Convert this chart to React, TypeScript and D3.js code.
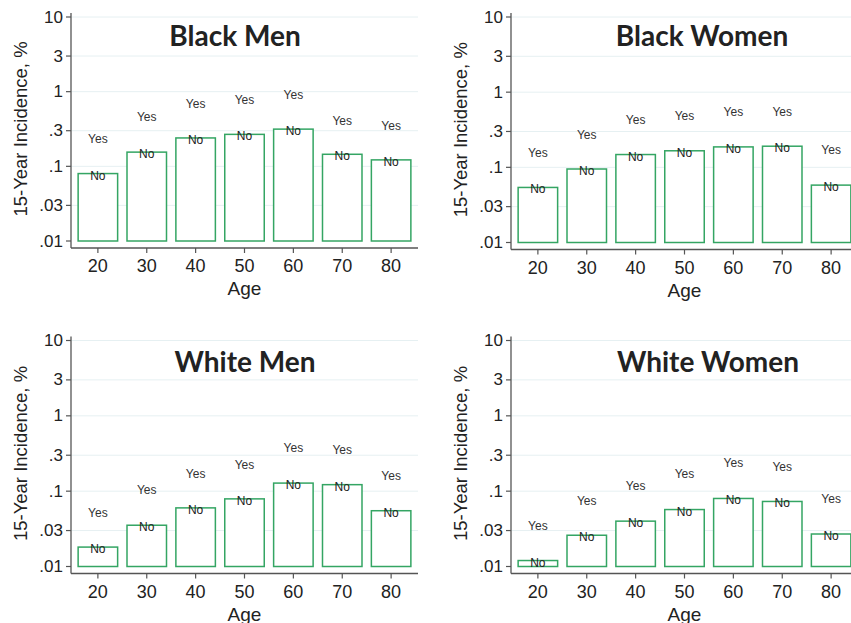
// App.tsx
import * as d3 from 'd3';
import React, { useRef, useEffect } from 'react';

const ages = [20, 30, 40, 50, 60, 70, 80];
const yTicks = [0.01, 0.03, 0.1, 0.3, 1, 3, 10];
const yTickLabels = ['.01', '.03', '.1', '.3', '1', '3', '10'];

const titles = ['Black Men', 'Black Women', 'White Men', 'White Women'];

// "No" = bar heights, "Yes" = floating labels
const blackMenNo = [0.08, 0.155, 0.24, 0.268, 0.315, 0.145, 0.122];
const blackMenYes = [0.23, 0.46, 0.69, 0.78, 0.9, 0.41, 0.35];
const blackWomenNo = [0.054, 0.095, 0.148, 0.166, 0.187, 0.191, 0.058];
const blackWomenYes = [0.157, 0.27, 0.42, 0.48, 0.54, 0.55, 0.169];
const whiteMenNo = [0.0181, 0.0353, 0.06, 0.079, 0.128, 0.122, 0.055];
const whiteMenYes = [0.052, 0.103, 0.17, 0.224, 0.377, 0.35, 0.157];
const whiteWomenNo = [0.012, 0.026, 0.04, 0.057, 0.08, 0.073, 0.027];
const whiteWomenYes = [0.0346, 0.073, 0.116, 0.169, 0.236, 0.211, 0.079];

const noSeries = [blackMenNo, blackWomenNo, whiteMenNo, whiteWomenNo];
const yesSeries = [blackMenYes, blackWomenYes, whiteMenYes, whiteWomenYes];

const FONT = "'Liberation Sans', Arial, sans-serif";

function App() {
    const ref = useRef<SVGSVGElement>(null);

    useEffect(() => {
        draw();
    }, []);

    const draw = () => {
        const svg = d3.select(ref.current);
        svg.selectAll('*').remove();

        // panel placement: left edge of plot, y of the "10" tick, plot height, title pos
        const panels = [
            { x: 71, y: 17, h: 224, tx: 235, ty: 35 },
            { x: 511, y: 17, h: 225.5, tx: 702, ty: 35 },
            { x: 71, y: 340.5, h: 226, tx: 245, ty: 361 },
            { x: 511, y: 340.5, h: 226, tx: 708, ty: 361 },
        ];
        const plotW = 347;
        const green = '#34a563';
        const axisCol = '#555';

        panels.forEach((p, i) => {
            const g = svg.append('g');
            const scaleX = d3.scaleLinear().domain([14.5, 85.5]).range([p.x, p.x + plotW]);
            const scaleY = d3.scaleLog().domain([0.01, 10]).range([p.y + p.h, p.y]);
            const axisY = p.y + p.h + 7;
            const barW = 39.5;

            // gridlines
            g.selectAll('.grid')
                .data(yTicks.filter(t => t > 0.01))
                .enter()
                .append('line')
                .attr('x1', p.x)
                .attr('x2', p.x + plotW)
                .attr('y1', d => scaleY(d))
                .attr('y2', d => scaleY(d))
                .attr('stroke', '#e6f0f2')
                .attr('stroke-width', 1);

            // bars
            g.selectAll('.bar')
                .data(noSeries[i])
                .enter()
                .append('rect')
                .attr('x', (d, j) => scaleX(ages[j]) - barW / 2)
                .attr('y', d => scaleY(d))
                .attr('width', barW)
                .attr('height', d => scaleY(0.01) - scaleY(d))
                .attr('fill', 'white')
                .attr('stroke', green)
                .attr('stroke-width', 1.5);

            // No labels
            g.selectAll('.no')
                .data(noSeries[i])
                .enter()
                .append('text')
                .attr('x', (d, j) => scaleX(ages[j]))
                .attr('y', d => scaleY(d) + 2)
                .attr('dominant-baseline', 'central')
                .attr('text-anchor', 'middle')
                .attr('font-family', FONT)
                .attr('font-size', 12)
                .attr('fill', '#222')
                .text('No');

            // Yes labels
            g.selectAll('.yes')
                .data(yesSeries[i])
                .enter()
                .append('text')
                .attr('x', (d, j) => scaleX(ages[j]))
                .attr('y', d => scaleY(d))
                .attr('dominant-baseline', 'central')
                .attr('text-anchor', 'middle')
                .attr('font-family', FONT)
                .attr('font-size', 12)
                .attr('fill', '#333')
                .text('Yes');

            // axes lines
            g.append('line')
                .attr('x1', p.x).attr('x2', p.x)
                .attr('y1', p.y - 4).attr('y2', axisY)
                .attr('stroke', axisCol).attr('stroke-width', 1.3);
            g.append('line')
                .attr('x1', p.x).attr('x2', p.x + plotW)
                .attr('y1', axisY).attr('y2', axisY)
                .attr('stroke', axisCol).attr('stroke-width', 1.3);

            // y ticks
            yTicks.forEach((t, k) => {
                g.append('line')
                    .attr('x1', p.x - 5).attr('x2', p.x)
                    .attr('y1', scaleY(t)).attr('y2', scaleY(t))
                    .attr('stroke', axisCol).attr('stroke-width', 1.2);
                g.append('text')
                    .attr('x', p.x - 8)
                    .attr('y', scaleY(t))
                    .attr('dominant-baseline', 'central')
                    .attr('text-anchor', 'end')
                    .attr('font-family', FONT)
                    .attr('font-size', 17)
                    .attr('fill', '#222')
                    .text(yTickLabels[k]);
            });

            // x ticks
            ages.forEach(a => {
                g.append('line')
                    .attr('x1', scaleX(a)).attr('x2', scaleX(a))
                    .attr('y1', axisY).attr('y2', axisY + 5)
                    .attr('stroke', axisCol).attr('stroke-width', 1.2);
                g.append('text')
                    .attr('x', scaleX(a))
                    .attr('y', axisY + 24)
                    .attr('text-anchor', 'middle')
                    .attr('font-family', FONT)
                    .attr('font-size', 18)
                    .attr('fill', '#222')
                    .text(a);
            });

            // axis titles
            g.append('text')
                .attr('x', p.x + plotW / 2)
                .attr('y', axisY + 47)
                .attr('text-anchor', 'middle')
                .attr('font-family', FONT)
                .attr('font-size', 19)
                .attr('fill', '#222')
                .text('Age');
            g.append('text')
                .attr('transform', `translate(${p.x - 51},${p.y + p.h / 2}) rotate(-90)`)
                .attr('text-anchor', 'middle')
                .attr('dominant-baseline', 'central')
                .attr('font-family', FONT)
                .attr('font-size', 18.5)
                .attr('fill', '#222')
                .text('15-Year Incidence, %');

            // panel title
            g.append('text')
                .attr('x', p.tx)
                .attr('y', p.ty)
                .attr('text-anchor', 'middle')
                .attr('dominant-baseline', 'central')
                .attr('font-family', 'Lato, sans-serif')
                .attr('font-weight', 'bold')
                .attr('font-size', 28)
                .attr('fill', '#222')
                .text(titles[i]);
        });
    };

    return (
        <svg ref={ref} width={851} height={623}
            style={{ position: 'absolute', left: 0, top: 0, background: 'white' }}>
        </svg>
    );
}

export default App;
